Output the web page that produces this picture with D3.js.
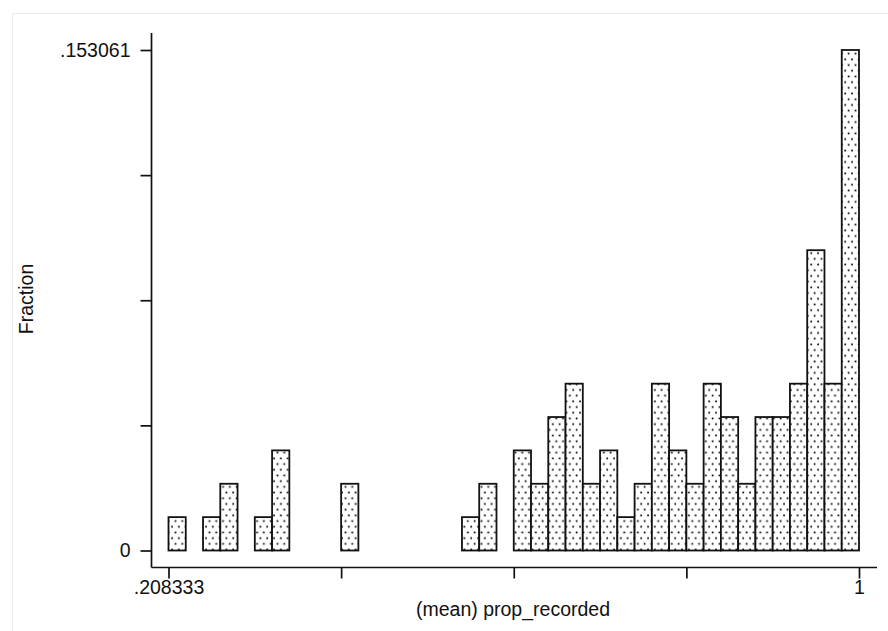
<!DOCTYPE html>
<html>
<head>
<meta charset="utf-8">
<script src="https://cdn.jsdelivr.net/npm/d3@7/dist/d3.min.js"></script>
<style>
  html, body { margin: 0; padding: 0; background: #fff; }
  svg { display: block; }
  text { font-family: "Liberation Sans", Arial, sans-serif; fill: #111; }
</style>
</head>
<body>
<script>
// ---- data ----
const xMin = 0.208333;
const xMax = 1;
const binCount = 40;
// fraction of observations in each of the 40 bins (left to right)
const fractions = [
  0.010204, 0, 0.010204, 0.020408, 0, 0.010204, 0.030612, 0, 0, 0,
  0.020408, 0, 0, 0, 0, 0, 0, 0.010204, 0.020408, 0,
  0.030612, 0.020408, 0.040816, 0.051020, 0.020408, 0.030612, 0.010204, 0.020408, 0.051020, 0.030612,
  0.020408, 0.051020, 0.040816, 0.020408, 0.040816, 0.040816, 0.051020, 0.091837, 0.051020, 0.153061
];
const yTicks = [0, 0.038265, 0.076531, 0.114796, 0.153061];
const yTickLabels = ["0", "", "", "", ".153061"];
const xTicks = [0.208333, 0.40625, 0.604167, 0.802083, 1];
const xTickLabels = [".208333", "", "", "", "1"];
const xTitle = "(mean) prop_recorded";
const yTitle = "Fraction";

// ---- drawing ----
const W = 888, H = 631;
const svg = d3.select("body").append("svg").attr("width", W).attr("height", H);

// faint outer frame
svg.append("rect").attr("x", 12.5).attr("y", 13.5).attr("width", W).attr("height", H)
  .attr("fill", "none").attr("stroke", "#ececec").attr("stroke-width", 1);

const defs = svg.append("defs");
const pat = defs.append("pattern").attr("id", "dots")
  .attr("patternUnits", "userSpaceOnUse").attr("width", 6.8).attr("height", 11.4);
pat.append("rect").attr("width", 6.8).attr("height", 11.4).attr("fill", "#fff");
pat.append("rect").attr("x", 1.2).attr("y", 1.5).attr("width", 1.7).attr("height", 1.7).attr("fill", "#000");
pat.append("rect").attr("x", 4.6).attr("y", 7.2).attr("width", 1.7).attr("height", 1.7).attr("fill", "#000");

const x = d3.scaleLinear().domain([xMin, xMax]).range([168.5, 859]);
const y = d3.scaleLinear().domain([0, 0.153061]).range([550.5, 50]);

const binW = (xMax - xMin) / binCount;
const bins = fractions.map((f, i) => ({ x0: xMin + i * binW, x1: xMin + (i + 1) * binW, f }));

svg.append("g").selectAll("rect").data(bins.filter(d => d.f > 0)).join("rect")
  .attr("x", d => x(d.x0))
  .attr("y", d => y(d.f))
  .attr("width", d => x(d.x1) - x(d.x0))
  .attr("height", d => y(0) - y(d.f))
  .attr("fill", "url(#dots)")
  .attr("stroke", "#111")
  .attr("stroke-width", 1.8);

// y axis
const yAxis = d3.axisLeft(y).tickValues(yTicks).tickSize(11).tickPadding(10)
  .tickFormat((d, i) => yTickLabels[i]);
const gy = svg.append("g").attr("transform", "translate(151.5,0)").call(yAxis);
gy.select(".domain").attr("d", "M0,33V567.5").attr("stroke", "#111").attr("stroke-width", 1.7);
gy.selectAll(".tick line").attr("stroke", "#111").attr("stroke-width", 1.7);
gy.selectAll(".tick text").attr("font-size", 19.5).attr("fill", "#111")
  .attr("font-family", "Liberation Sans, Arial, sans-serif");

// x axis
const xAxis = d3.axisBottom(x).tickValues(xTicks).tickSize(11).tickPadding(2)
  .tickFormat((d, i) => xTickLabels[i]);
const gx = svg.append("g").attr("transform", "translate(0,567.5)").call(xAxis);
gx.select(".domain").attr("d", "M151.5,0H877").attr("stroke", "#111").attr("stroke-width", 1.7);
gx.selectAll(".tick line").attr("stroke", "#111").attr("stroke-width", 1.7);
gx.selectAll(".tick text").attr("font-size", 19.5).attr("fill", "#111")
  .attr("font-family", "Liberation Sans, Arial, sans-serif");

// titles
svg.append("text").attr("x", 513).attr("y", 616).attr("text-anchor", "middle")
  .attr("font-size", 19.5).text(xTitle);
svg.append("text").attr("transform", "translate(33,299) rotate(-90)").attr("text-anchor", "middle")
  .attr("font-size", 19.5).text(yTitle);
</script>
</body>
</html>
